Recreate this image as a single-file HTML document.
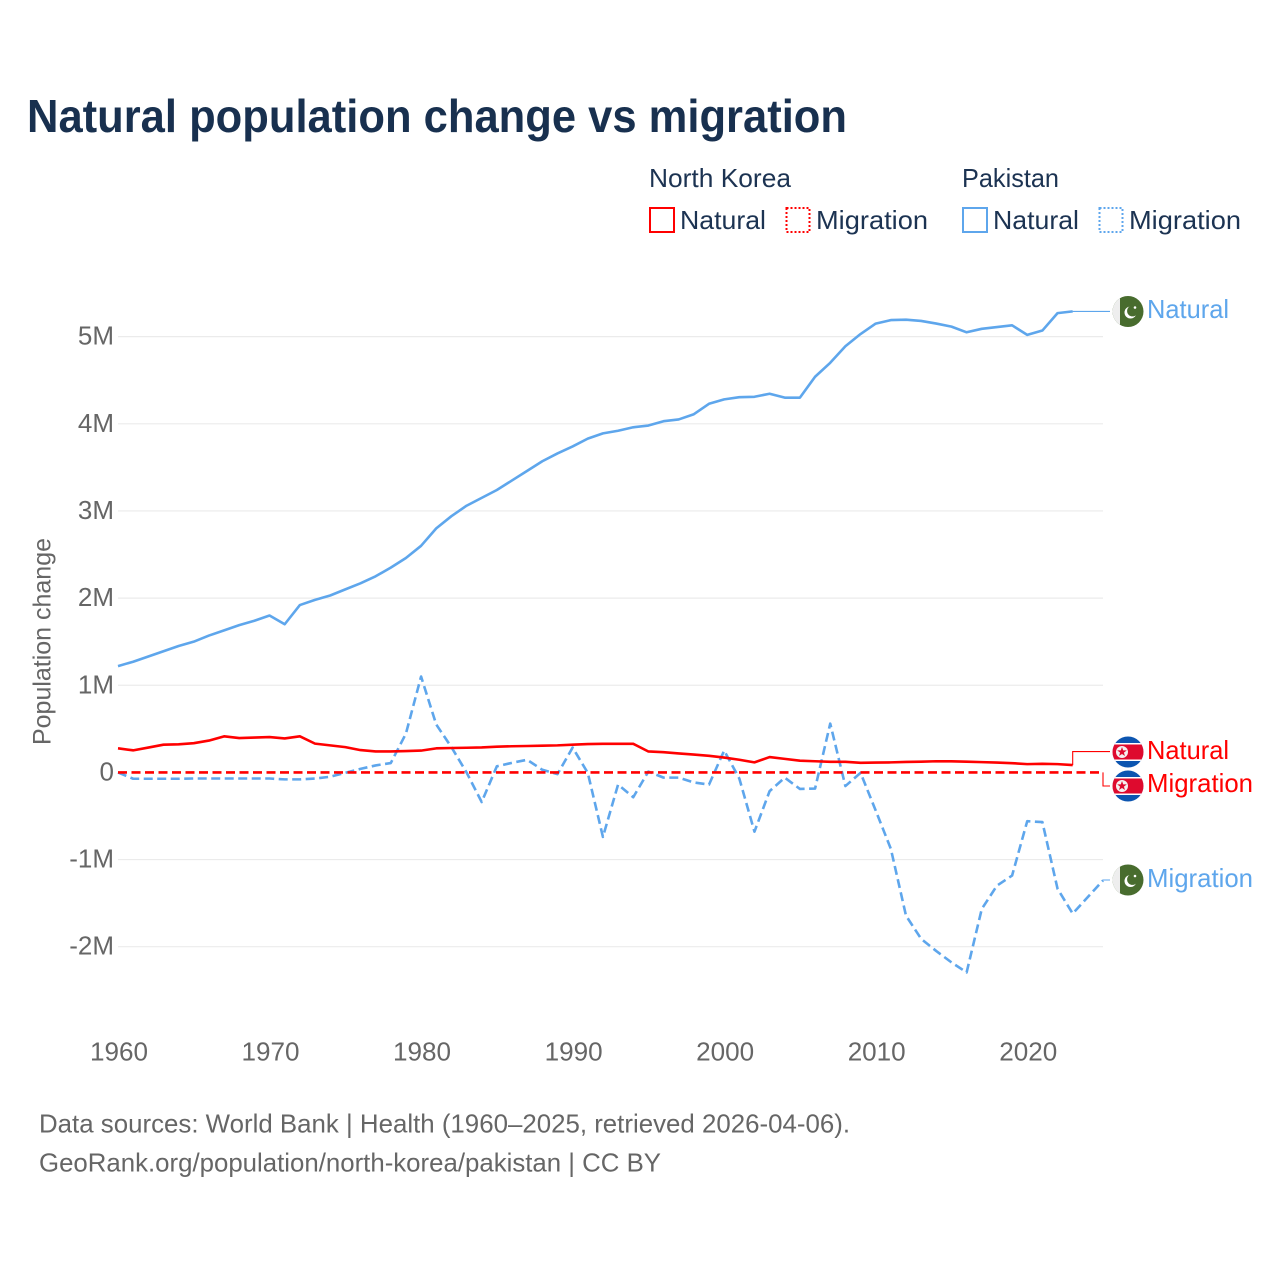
<!DOCTYPE html>
<html lang="en">
<head>
<meta charset="utf-8">
<title>Natural population change vs migration</title>
<style>
html,body{margin:0;padding:0;background:#fff;width:1280px;height:1280px;overflow:hidden}
svg{display:block}
text{font-family:"Liberation Sans",sans-serif}
</style>
</head>
<body>
<svg id="chart" xmlns="http://www.w3.org/2000/svg" width="1280" height="1280" viewBox="0 0 1280 1280">
<rect x="0" y="0" width="1280" height="1280" fill="#fff"/>
<text x="27" y="132" font-size="46" font-weight="700" fill="#18304f" textLength="820" lengthAdjust="spacingAndGlyphs">Natural population change vs migration</text>

<g font-size="26" fill="#1c3352">
<text x="649" y="187" textLength="142" lengthAdjust="spacingAndGlyphs">North Korea</text>
<text x="962" y="187" textLength="97" lengthAdjust="spacingAndGlyphs">Pakistan</text>
<rect x="650" y="208" width="24" height="24" fill="none" stroke="#ff0000" stroke-width="2"/>
<text x="680" y="229" textLength="86" lengthAdjust="spacingAndGlyphs">Natural</text>
<rect x="786.5" y="208" width="23" height="24" fill="none" stroke="#ff0000" stroke-width="2" stroke-dasharray="2 2"/>
<text x="816" y="229" textLength="112" lengthAdjust="spacingAndGlyphs">Migration</text>
<rect x="963" y="208" width="24" height="24" fill="none" stroke="#5ea6ec" stroke-width="2"/>
<text x="993" y="229" textLength="86" lengthAdjust="spacingAndGlyphs">Natural</text>
<rect x="1099.5" y="208" width="23" height="24" fill="none" stroke="#5ea6ec" stroke-width="2" stroke-dasharray="2 2"/>
<text x="1129" y="229" textLength="112" lengthAdjust="spacingAndGlyphs">Migration</text>
</g>

<g id="grid"></g>
<g id="yticks"></g>
<g id="xticks"></g>
<text transform="translate(50.5 641.5) rotate(-90)" text-anchor="middle" font-size="25" fill="#666" textLength="207" lengthAdjust="spacingAndGlyphs">Population change</text>
<g id="series"></g>

<defs>
<clipPath id="clip-flag"><circle cx="0" cy="0" r="15.5"/></clipPath>
<g id="flag-pk">
<g clip-path="url(#clip-flag)">
<rect x="-16" y="-16" width="32" height="32" fill="#486c2e"/>
<rect x="-16" y="-16" width="8" height="32" fill="#eeeeee"/>
<circle cx="2.5" cy="1" r="6" fill="#fff"/>
<circle cx="4.5" cy="-0.5" r="5.4" fill="#486c2e"/>
<circle cx="7" cy="-4" r="1.3" fill="#fff"/>
</g>
</g>
<g id="flag-kp">
<g clip-path="url(#clip-flag)">
<rect x="-16" y="-16" width="32" height="32" fill="#0c55b0"/>
<rect x="-16" y="-9" width="32" height="18" fill="#fff"/>
<rect x="-16" y="-7.5" width="32" height="15" fill="#de0a2e"/>
<circle cx="-6" cy="0" r="6" fill="#f5f0f0"/>
<polygon points="-6,-5 -4.8,-1.6 -1.2,-1.6 -4.1,0.6 -3,4 -6,2 -9,4 -7.9,0.6 -10.8,-1.6 -7.2,-1.6" fill="#de0a2e"/>
</g>
</g>
</defs>

<use href="#flag-pk" x="1128" y="311.5"/>
<use href="#flag-kp" x="1128" y="752"/>
<use href="#flag-kp" x="1128" y="786"/>
<use href="#flag-pk" x="1128" y="880"/>

<text x="1147" y="318" font-size="26" fill="#5ea6ec" textLength="82" lengthAdjust="spacingAndGlyphs">Natural</text>
<text x="1147" y="759" font-size="26" fill="#ff0000" textLength="82" lengthAdjust="spacingAndGlyphs">Natural</text>
<text x="1147" y="792" font-size="26" fill="#ff0000" textLength="106" lengthAdjust="spacingAndGlyphs">Migration</text>
<text x="1147" y="887" font-size="26" fill="#5ea6ec" textLength="106" lengthAdjust="spacingAndGlyphs">Migration</text>

<text x="39" y="1132.5" font-size="26" fill="#666" textLength="811" lengthAdjust="spacingAndGlyphs">Data sources: World Bank | Health (1960–2025, retrieved 2026-04-06).</text>
<text x="39" y="1171.5" font-size="26" fill="#666" textLength="622" lengthAdjust="spacingAndGlyphs">GeoRank.org/population/north-korea/pakistan | CC BY</text>
</svg>

<script>
const years = [1960,1961,1962,1963,1964,1965,1966,1967,1968,1969,1970,1971,1972,1973,1974,1975,1976,1977,1978,1979,1980,1981,1982,1983,1984,1985,1986,1987,1988,1989,1990,1991,1992,1993,1994,1995,1996,1997,1998,1999,2000,2001,2002,2003,2004,2005,2006,2007,2008,2009,2010,2011,2012,2013,2014,2015,2016,2017,2018,2019,2020,2021,2022,2023,2024,2025];
const pakistanNatural = [1.22,1.27,1.33,1.39,1.45,1.50,1.57,1.63,1.69,1.74,1.80,1.70,1.92,1.98,2.03,2.10,2.17,2.25,2.35,2.46,2.60,2.80,2.94,3.06,3.15,3.24,3.35,3.46,3.57,3.66,3.74,3.83,3.89,3.92,3.96,3.98,4.03,4.05,4.11,4.23,4.28,4.305,4.31,4.345,4.30,4.30,4.54,4.70,4.89,5.03,5.15,5.19,5.195,5.18,5.15,5.115,5.05,5.09,5.11,5.13,5.02,5.07,5.27,5.29];
const pakistanMigration = [0,-0.073,-0.073,-0.073,-0.073,-0.07,-0.07,-0.07,-0.07,-0.07,-0.07,-0.08,-0.08,-0.07,-0.05,-0.005,0.04,0.08,0.107,0.445,1.10,0.55,0.29,0,-0.34,0.07,0.11,0.145,0.03,-0.02,0.285,-0.005,-0.74,-0.14,-0.285,0.01,-0.06,-0.06,-0.115,-0.14,0.25,-0.07,-0.68,-0.215,-0.06,-0.19,-0.185,0.56,-0.157,-0.005,-0.437,-0.877,-1.644,-1.91,-2.05,-2.18,-2.295,-1.567,-1.30,-1.184,-0.56,-0.57,-1.335,-1.62,-1.43,-1.24];
const northKoreaNatural = [0.276,0.253,0.285,0.318,0.322,0.335,0.365,0.414,0.394,0.40,0.405,0.39,0.414,0.33,0.31,0.29,0.256,0.241,0.241,0.245,0.25,0.276,0.28,0.283,0.287,0.295,0.30,0.303,0.306,0.31,0.318,0.325,0.328,0.328,0.328,0.24,0.232,0.218,0.205,0.19,0.17,0.145,0.115,0.176,0.155,0.134,0.128,0.122,0.122,0.11,0.113,0.115,0.12,0.123,0.128,0.127,0.123,0.118,0.113,0.106,0.095,0.098,0.095,0.084];
const northKoreaMigration = [0,0,0,0,0,0,0,0,0,0,0,0,0,0,0,0,0,0,0,0,0,0,0,0,0,0,0,0,0,0,0,0,0,0,0,0,0,0,0,0,0,0,0,0,0,0,0,0,0,0,0,0,0,0,0,0,0,0,0,0,0,0,0,0,0,0];
const yTickValues = [-2,-1,0,1,2,3,4,5];
const yTickLabels = ["-2M","-1M","0","1M","2M","3M","4M","5M"];
const xTickValues = [1960,1970,1980,1990,2000,2010,2020];

const NS = 'http://www.w3.org/2000/svg';
const xScale = function (year) { return 118 + (year - 1960) * (985 / 65); };
const yScale = function (v) { return 772.4 - v * 87.15; };

function make(tag, parent, attrs) {
  const el = document.createElementNS(NS, tag);
  Object.keys(attrs).forEach(function (k) { el.setAttribute(k, attrs[k]); });
  parent.appendChild(el);
  return el;
}

const gridGroup = document.getElementById('grid');
const yGroup = document.getElementById('yticks');
yTickValues.forEach(function (v, i) {
  if (v !== 0) {
    const line = make('line', gridGroup, {x1: 118, x2: 1103, y1: yScale(v), y2: yScale(v), stroke: '#ebebeb', 'stroke-width': 1.2});
    
    
  }
  const label = make('text', yGroup, {x: 114, y: yScale(v) + 8, 'text-anchor': 'end', 'font-size': 26, fill: '#666'});
  
  
  label.textContent = yTickLabels[i];
});

const xGroup = document.getElementById('xticks');
xTickValues.forEach(function (yr) {
  const label = make('text', xGroup, {x: xScale(yr) + 1, y: 1060.5, 'text-anchor': 'middle', 'font-size': 26, fill: '#666', textLength: 58, lengthAdjust: 'spacingAndGlyphs'});
  
  
  label.textContent = yr;
});

function toPath(values) {
  return values.map(function (v, i) {
    return (i ? 'L' : 'M') + xScale(years[i]).toFixed(2) + ' ' + yScale(v).toFixed(2);
  }).join(' ');
}

const seriesGroup = document.getElementById('series');
const BLUE = '#5ea6ec';
const RED = '#ff0000';

const pakNatLine = make('path', seriesGroup, {d: toPath(pakistanNatural), fill: 'none', stroke: BLUE, 'stroke-width': 2.6, 'stroke-linejoin': 'round'});



const pakMigLine = make('path', seriesGroup, {d: toPath(pakistanMigration), fill: 'none', stroke: BLUE, 'stroke-width': 2.6, 'stroke-dasharray': '9 4.5', 'stroke-linejoin': 'round'});



const nkNatLine = make('path', seriesGroup, {d: toPath(northKoreaNatural), fill: 'none', stroke: RED, 'stroke-width': 2.6, 'stroke-linejoin': 'round'});



const nkMigLine = make('path', seriesGroup, {d: toPath(northKoreaMigration), fill: 'none', stroke: RED, 'stroke-width': 2.6, 'stroke-dasharray': '9 4.5'});



function endPoint(values) {
  const i = values.length - 1;
  return {x: xScale(years[i]), y: yScale(values[i])};
}
function connector(values, labelY, color) {
  const p = endPoint(values);
  return make('path', seriesGroup, {d: 'M' + p.x + ' ' + p.y + ' V' + labelY + ' H1110', fill: 'none', stroke: color, 'stroke-width': 1.1});
}
const connA = connector(pakistanNatural, 311.4, BLUE);


const connB = connector(northKoreaNatural, 751.6, RED);


const connC = connector(northKoreaMigration, 786, RED);


const connD = connector(pakistanMigration, 880, BLUE);


</script>
</body>
</html>
